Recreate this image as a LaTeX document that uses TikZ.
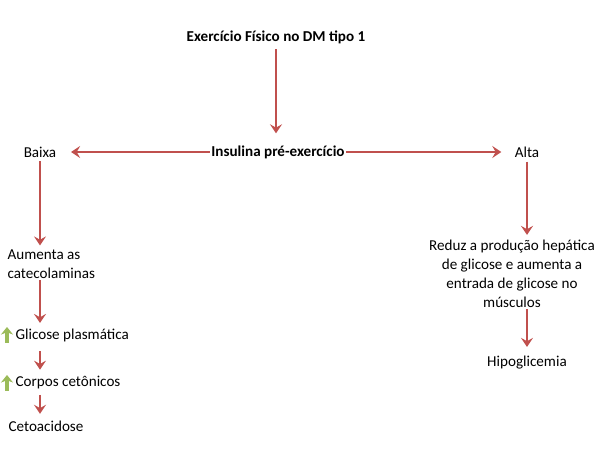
\documentclass[tikz,border=0pt]{standalone}
\usepackage{fontspec}
\setmainfont{Carlito}
\usetikzlibrary{arrows.meta,positioning}
\definecolor{flowred}{RGB}{192,80,77}
\definecolor{upgreen}{RGB}{155,187,89}
\tikzset{
  flow/.style={-{Stealth[length=2.4mm, width=3.2mm, inset=0.9mm]}, line width=2pt, flowred},
  rise/.style={-{Stealth[length=2mm, width=3.2mm, inset=0.6mm]}, line width=2.4pt, upgreen},
  lbl/.style={font=\fontsize{11.4}{14.2}\selectfont, inner sep=1pt},
  head/.style={lbl, font=\fontsize{11.4}{14.2}\selectfont\bfseries},
}

\begin{document}
\begin{tikzpicture}[x=0.0265cm, y=-0.0265cm]
  \useasboundingbox (0,0) rectangle (598,449);
  % top
  \node[head] (title) at (276,37) {Exercício Físico no DM tipo 1};
  \node[head] (ins) at (278,152) {Insulina pré-exercício};
  \node[lbl] (low) at (40,152) {Baixa};
  \node[lbl] (high) at (527,152) {Alta};
  % left branch
  \node[lbl, anchor=west, align=left] (cat) at (6,264) {Aumenta as\\catecolaminas};
  \node[lbl, anchor=west] (glic) at (14,335) {Glicose plasmática};
  \node[lbl, anchor=west] (ket) at (14,383) {Corpos cetônicos};
  \node[lbl, anchor=west] (acid) at (7,426) {Cetoacidose};
  % right branch
  \node[lbl, align=center] (cut) at (512,274) {Reduz a produção hepática\\de glicose e aumenta a\\entrada de glicose no\\músculos};
  \node[lbl] (hypo) at (527,363) {Hipoglicemia};

  \draw[flow, shorten <=3pt, shorten >=8pt] (title) -- (title |- ins.north);
  \draw[flow, shorten >=10pt] (ins) -- (low);
  \draw[flow, shorten >=9pt] (ins) -- (high);
  \draw[flow, shorten <=2pt, shorten >=2pt] (low) -- (low |- cat.north);
  \draw[flow, shorten >=3pt] (cat.south -| low) -- (glic.north -| low);
  \draw[flow, shorten <=6pt, shorten >=4pt] (glic.south -| low) -- (ket.north -| low);
  \draw[flow, shorten <=3pt, shorten >=4pt] (ket.south -| low) -- (acid.north -| low);
  \draw[flow, shorten <=2pt, shorten >=3pt] (high) -- (high |- cut.north);
  \draw[flow, shorten >=6pt] (cut.south -| high) -- (hypo.north -| high);
  % up arrows
  \draw[rise] (glic.west) ++(-7,8) -- ++(0,-16);
  \draw[rise] (ket.west) ++(-7,8) -- ++(0,-16);
\end{tikzpicture}
\end{document}
